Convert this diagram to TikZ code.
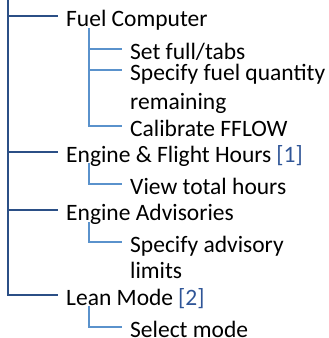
\documentclass[tikz,border=0pt]{standalone}
\usepackage{fontspec}
\setmainfont{Carlito}
\definecolor{mainblue}{HTML}{2B4F86}
\definecolor{subblue}{HTML}{5A92CC}
\definecolor{refblue}{HTML}{2F5597}
\newcommand{\fnref}[1]{\hspace{5pt}\textcolor{refblue}{[#1]}}
% two-line entry whose baseline is the first line
\newcommand{\twolines}[3][0pt]{\begin{tabular}[t]{@{}l@{}}#2\\[#1]#3\end{tabular}}

\begin{document}
\begin{tikzpicture}[
			x = 1pt, y = -1pt, % one unit per pixel, y runs down
			font = \fontsize{23.5}{26}\selectfont,
			item/.style = {anchor = base west, inner xsep = 8pt, inner ysep = 0pt},
			mainline/.style = {draw = mainblue, line width = 2pt},
			subline/.style = {draw = subblue, line width = 1.5pt}
			]
			
			\useasboundingbox (0,0) rectangle (329,338);
			
			% top level
			\node[item] (mFuel) at (58,26) {Fuel Computer};
			\node[item] (mHours) at (58,162) {Engine \& Flight Hours\fnref{1}};
			\node[item] (mAdv) at (58,220) {Engine Advisories};
			\node[item] (mLean) at (58,305) {Lean Mode\fnref{2}};
			
			% second level
			\node[item] (sSet) at (122,59) {Set full/tabs};
			\node[item] (sQty) at (122,80) {\twolines[3pt]{Specify fuel quantity}{remaining}};
			\node[item] (sCal) at (122,136) {Calibrate FFLOW};
			\node[item] (sView) at (122,194) {View total hours};
			\node[item] (sLim) at (122,252) {\twolines{Specify advisory}{limits}};
			\node[item] (sMode) at (122,337) {Select mode};
			
			\coordinate (top) at (7.5,0);
			\coordinate (bFuel) at (89,28);
			\coordinate (bHours) at (89,163);
			\coordinate (bAdv) at (89,222);
			\coordinate (bLean) at (89,306);
			
			% branches sit 10px above each baseline
			\foreach \n in {mFuel, mHours, mAdv, mLean}
			\draw[mainline] (top) |- ([yshift=10pt]\n.base west);
			
			\foreach \n in {sSet, sQty, sCal}
			\draw[subline] (bFuel) |- ([yshift=10pt]\n.base west);
			\draw[subline] (bHours) |- ([yshift=10pt]sView.base west);
			\draw[subline] (bAdv) |- ([yshift=10pt]sLim.base west);
			\draw[subline] (bLean) |- ([yshift=10pt]sMode.base west);
			
		\end{tikzpicture}
\end{document}
